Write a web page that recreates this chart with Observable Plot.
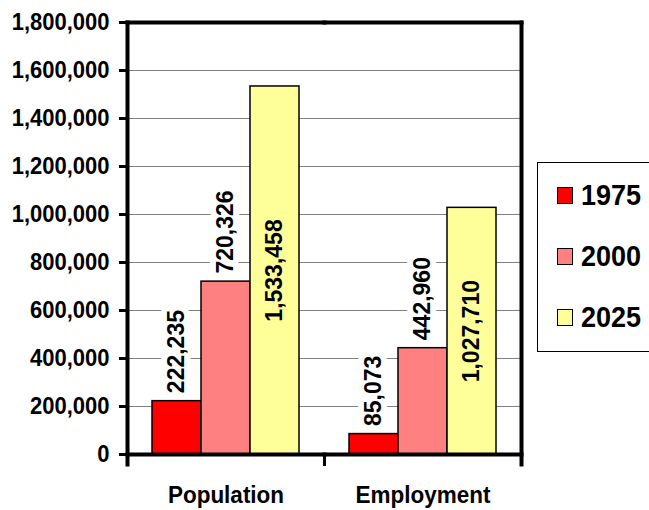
<!DOCTYPE html>
<html>
<head>
<meta charset="utf-8">
<script src="https://cdn.jsdelivr.net/npm/d3@7"></script>
<script src="https://cdn.jsdelivr.net/npm/@observablehq/plot@0.6"></script>
<style>
  html, body { margin: 0; padding: 0; background: #fff; overflow: hidden; }
  #chart { position: relative; width: 649px; height: 510px; font-family: "Liberation Sans", Arial, sans-serif; color: #000; }
  #legend {
    position: absolute; left: 537px; top: 162px; width: 112px; height: 190px;
    border: 1.5px solid #000; border-right: none; box-sizing: border-box; background: #fff;
  }
  #legend .item { position: absolute; left: 19px; display: flex; align-items: center; }
  #legend .sw { width: 16px; height: 17px; border: 1.5px solid #000; box-sizing: border-box; margin-right: 8px; }
  #legend .lab { font-size: 27px; font-weight: bold; line-height: 1; display: inline-block; transform: scaleY(1.12); }
</style>
</head>
<body>
<div id="chart"></div>
<script>
// Categories, series and axis ticks
const categories = ["Population", "Employment"];
const years = ["1975", "2000", "2025"];
const populationValues = [222235, 720326, 1533458];
const employmentValues = [85073, 442960, 1027710];
const seriesColors = ["#FF0000", "#FF8080", "#FFFF99"];
const yTicks = [0, 200000, 400000, 600000, 800000, 1000000, 1200000, 1400000, 1600000, 1800000];
// series whose value labels sit centred inside the bar
const centredLabelYears = ["2025"];

const valuesByCategory = {Population: populationValues, Employment: employmentValues};
const table = categories.flatMap(category =>
  years.map((year, i) => ({category, year, value: valuesByCategory[category][i]}))
);

const W = 649, H = 510;
const mTop = 22, mBottom = 56, mLeft = 126, mRight = 128;
const innerH = H - mTop - mBottom;
const fmt = d3.format(",");
const font = {fontSize: 22, fontWeight: "bold"};
const labelFont = {fontSize: 23, fontWeight: "bold"};
const border = {strokeWidth: 4, clip: false};

const plot = Plot.plot({
  width: W,
  height: H,
  marginTop: mTop,
  marginBottom: mBottom,
  marginLeft: mLeft,
  marginRight: mRight,
  style: {background: "#fff", color: "#000", fontFamily: "'Liberation Sans', Arial, sans-serif", overflow: "visible"},
  fx: {domain: categories, padding: 0, label: null},
  x: {domain: years, paddingInner: 0, paddingOuter: 0.5, axis: null},
  y: {domain: [0, d3.max(yTicks)], label: null},
  color: {domain: years, range: seriesColors},
  marks: [
    Plot.gridY(yTicks, {stroke: "#808080", strokeOpacity: 1, strokeWidth: 1}),
    Plot.barY(table, {fx: "category", x: "year", y: "value", fill: "year", stroke: "#000", strokeWidth: 1.5}),
    // value labels above the bars
    Plot.text(table.filter(d => !centredLabelYears.includes(d.year)), {
      fx: "category", x: "year", y: "value", text: d => fmt(d.value),
      rotate: -90, textAnchor: "start", lineAnchor: "middle", dy: -8,
      fill: "#000", stroke: "#fff", strokeWidth: 12, ...labelFont
    }),
    // value labels centred inside the bars
    Plot.text(table.filter(d => centredLabelYears.includes(d.year)), {
      fx: "category", x: "year", y: d => d.value / 2, text: d => fmt(d.value),
      rotate: -90, textAnchor: "middle", lineAnchor: "middle",
      fill: "#000", ...labelFont
    }),
    // plot-area border and category separator ticks
    Plot.frame({anchor: "top", ...border}),
    Plot.frame({anchor: "bottom", ...border}),
    Plot.frame({anchor: "left", facetAnchor: "left", insetBottom: -10, ...border}),
    Plot.frame({anchor: "right", facetAnchor: "right", insetBottom: -10, ...border}),
    Plot.frame({anchor: "right", facetAnchor: "left", strokeWidth: 3, clip: false, insetTop: innerH, insetBottom: -10}),
    Plot.axisY(yTicks, {tickSize: 8, tickPadding: 10, tickFormat: fmt, strokeWidth: 3, label: null, ...font}),
    Plot.axisFx({anchor: "bottom", tickSize: 0, tickPadding: 31, label: null, fontSize: 22.5, fontWeight: "bold"})
  ]
});

// Axis lettering in this chart is drawn slightly tall: stretch each horizontal
// label vertically about its own anchor point (rotated value labels are left as is).
const stretch = 1.1;
const px = v => (v && !/em$/.test(v) && isFinite(parseFloat(v))) ? parseFloat(v) : 0;
plot.querySelectorAll("text").forEach(t => {
  const tr = t.getAttribute("transform") || "";
  if (/rotate\(/.test(tr)) return;
  const x = px(t.getAttribute("x")), y = px(t.getAttribute("y"));
  t.setAttribute("transform", `${tr} translate(${x},${y}) scale(1,${stretch}) translate(${-x},${-y})`);
});

const chart = document.getElementById("chart");
chart.appendChild(plot);

// Legend box on the right
const legend = document.createElement("div");
legend.id = "legend";
const color = plot.scale("color");
years.forEach((year, i) => {
  const item = document.createElement("div");
  item.className = "item";
  item.style.top = (19 + i * 61) + "px";
  const sw = document.createElement("div");
  sw.className = "sw";
  sw.style.background = color.apply(year);
  const lab = document.createElement("span");
  lab.className = "lab";
  lab.textContent = year;
  item.appendChild(sw);
  item.appendChild(lab);
  legend.appendChild(item);
});
chart.appendChild(legend);
</script>
</body>
</html>
